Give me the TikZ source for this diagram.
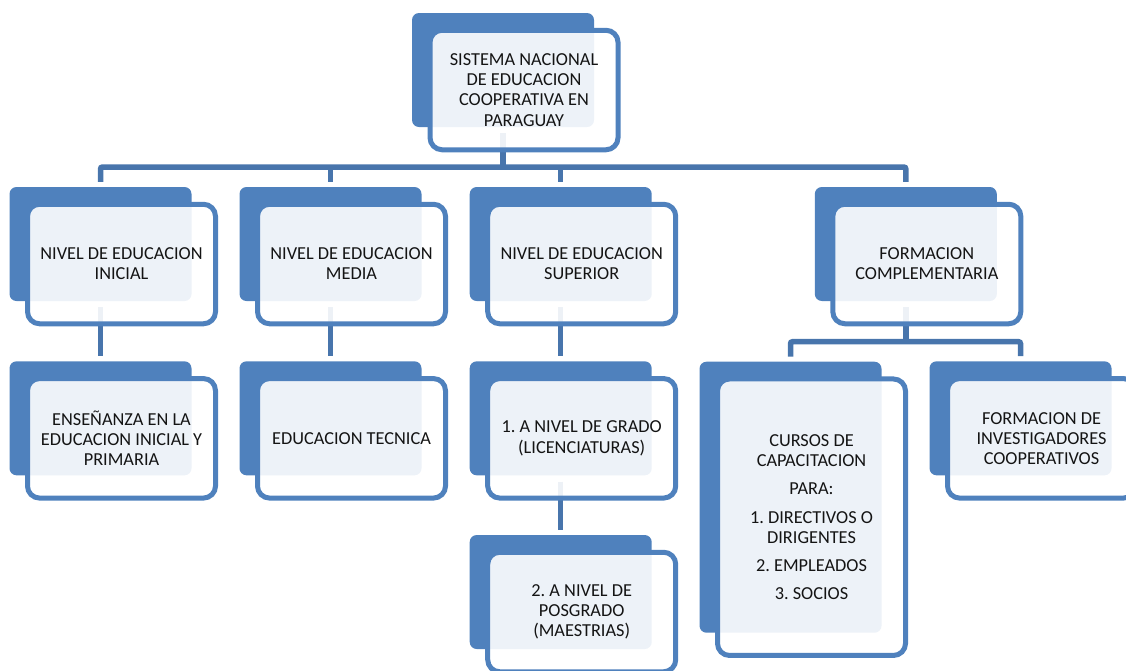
\documentclass[tikz,border=0pt]{standalone}
\usepackage{fontspec}
\setmainfont{Carlito}
\frenchspacing
\definecolor{acc}{RGB}{79,129,189}
\definecolor{conncol}{RGB}{72,117,172}
\pgfdeclarelayer{bg}
\pgfsetlayers{bg,main}
\newcommand{\orgnode}[4]{%
  \node[backbox, minimum height=#3pt] (#1) at (#2) {};
  \node[frontbox, minimum height=#3pt+5.5pt] (#1f) at ([xshift=21pt,yshift=-20pt]#1.center) {#4};}
\begin{document}
\begin{tikzpicture}[x=1pt,y=-1pt,
  backbox/.style={fill=acc, draw=none, rounded corners=7pt, minimum width=182pt, inner sep=0pt},
  frontbox/.style={fill=white, fill opacity=0.9, text opacity=1, draw=acc, line width=5pt,
    rounded corners=12pt, minimum width=188pt, inner sep=0pt, align=center,
    font=\fontsize{18.3}{20.1}\selectfont\frenchspacing, text=black!92},
  conn/.style={draw=conncol, line width=5.5pt}]
\useasboundingbox (0,0) rectangle (1126,670);
\clip (0,0) rectangle (1126,670);

\orgnode{T}{503,70}{114}{SISTEMA NACIONAL\\DE EDUCACION\\COOPERATIVA EN\\PARAGUAY}

\orgnode{A}{100.5,244}{114}{NIVEL DE EDUCACION\\INICIAL}
\orgnode{B}{330.5,244}{114}{NIVEL DE EDUCACION\\MEDIA}
\orgnode{C}{560.7,244}{114}{NIVEL DE EDUCACION\\SUPERIOR}
\orgnode{D}{905.8,244}{114}{FORMACION\\COMPLEMENTARIA}

\orgnode{A3}{100.5,418.3}{114}{ENSEÑANZA EN LA\\EDUCACION INICIAL Y\\PRIMARIA}
\orgnode{B3}{330.5,418.3}{114}{EDUCACION TECNICA}
\orgnode{C3}{560.7,418.3}{114}{1. A NIVEL DE GRADO\\(LICENCIATURAS)}
\orgnode{C4}{560.7,592}{114}{2. A NIVEL DE\\POSGRADO\\(MAESTRIAS)}
\orgnode{D3a}{790.5,497.2}{271}{CURSOS DE\\CAPACITACION\\[8.3pt]PARA:\\[8.3pt]1. DIRECTIVOS O\\DIRIGENTES\\[8.3pt]2. EMPLEADOS\\[8.3pt]3. SOCIOS}
\orgnode{D3b}{1020.5,418.3}{114}{FORMACION DE\\INVESTIGADORES\\COOPERATIVOS}

\begin{pgfonlayer}{bg}
  \coordinate (bus) at (503,167);
  \coordinate (dbus) at (905.8,341.7);
  \draw[conn] ([yshift=-6pt]T.south) -- (bus);
  \draw[conn, rounded corners=2pt] ([yshift=5pt]A.north) |- (bus) -| ([yshift=5pt]D.north);
  \draw[conn] ([yshift=5pt]B.north) -- (B.north |- bus);
  \draw[conn] ([yshift=5pt]C.north) -- (C.north |- bus);
  \draw[conn] ([yshift=-6pt]A.south) -- ([yshift=5pt]A3.north);
  \draw[conn] ([yshift=-6pt]B.south) -- ([yshift=5pt]B3.north);
  \draw[conn] ([yshift=-6pt]C.south) -- ([yshift=5pt]C3.north);
  \draw[conn] ([yshift=-6pt]C3.south) -- ([yshift=5pt]C4.north);
  \draw[conn] ([yshift=-6pt]D.south) -- (dbus);
  \draw[conn, rounded corners=2pt] ([yshift=5pt]D3a.north) |- (dbus) -| ([yshift=5pt]D3b.north);
\end{pgfonlayer}
\end{tikzpicture}
\end{document}
